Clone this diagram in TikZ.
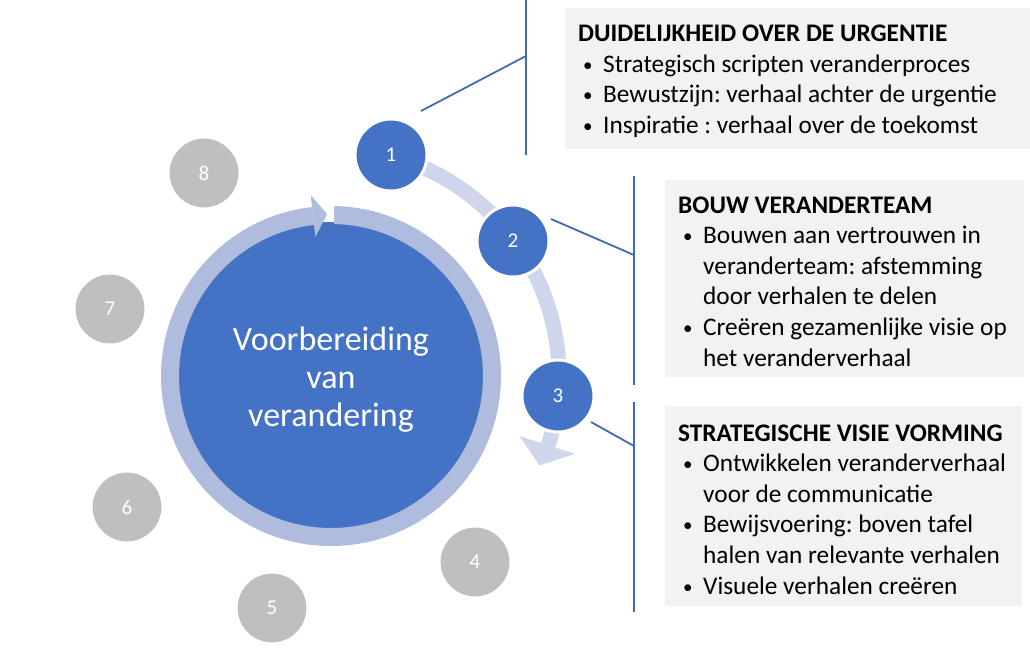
\documentclass[tikz,border=0pt]{standalone}
\usepackage{fontspec}
\setmainfont{Carlito}
\usetikzlibrary{calc}
\definecolor{mblue}{HTML}{4472C4}
\definecolor{ringc}{HTML}{AFBCDD}
\definecolor{arcc}{HTML}{CFD5EA}
\definecolor{greyfill}{HTML}{BFBFBF}
\definecolor{boxc}{HTML}{F2F2F2}
\definecolor{linec}{HTML}{4169B5}
\newcommand{\blt}{\hspace*{5pt}\makebox[20pt][l]{\raisebox{1pt}{\fontsize{19}{19}\selectfont •}}}
\newcommand{\ind}{\hspace*{25pt}}
\frenchspacing
\begin{document}
\begin{tikzpicture}[x=1pt,y=-1pt,
  numc/.style={circle, minimum size=72pt, inner sep=0pt, draw=white, line width=3pt, text=white, font=\fontsize{21}{25}\selectfont},
  bluenum/.style={numc, fill=mblue},
  graynum/.style={numc, fill=greyfill},
  panel/.style={fill=boxc, draw=none, inner sep=0pt, anchor=north west},
  paneltext/.style={anchor=base west, inner sep=0pt, text=black, font=\fontsize{25.3}{30.6}\selectfont},
  conn/.style={draw=linec, line width=1.8pt},
]
\useasboundingbox (0,0) rectangle (1030,651);
\fill[white] (0,0) rectangle (1030,651);

% panels
\node[panel, minimum width=465pt, minimum height=141pt] (box1) at (565,8) {};
\node[panel, minimum width=359pt, minimum height=197pt] (box2) at (665,180) {};
\node[panel, minimum width=357pt, minimum height=200pt] (box3) at (665,406) {};

\node[paneltext] (t1) at (578,41.5) {\parbox[t]{450pt}{\textbf{DUIDELIJKHEID OVER DE URGENTIE}\\
\blt Strategisch scripten veranderproces\\
\blt Bewustzijn: verhaal achter de urgentie\\
\blt Inspiratie : verhaal over de toekomst}};

\node[paneltext] (t2) at (678,213) {\parbox[t]{345pt}{\textbf{BOUW VERANDERTEAM}\\
\blt Bouwen aan vertrouwen in\\
\ind veranderteam: afstemming\\
\ind door verhalen te delen\\
\blt Creëren gezamenlijke visie op\\
\ind het veranderverhaal}};

\node[paneltext] (t3) at (678,441) {\parbox[t]{345pt}{\textbf{STRATEGISCHE VISIE VORMING}\\
\blt Ontwikkelen veranderverhaal\\
\ind voor de communicatie\\
\blt Bewijsvoering: boven tafel\\
\ind halen van relevante verhalen\\
\blt Visuele verhalen creëren}};

% bracket connectors
\coordinate (a1) at (421,111); \coordinate (m1) at (526,56);
\coordinate (k1t) at (526,0);  \coordinate (k1b) at (526,155);
\coordinate (a2) at (551,219); \coordinate (m2) at (634,255);
\coordinate (k2t) at (634,176); \coordinate (k2b) at (634,385);
\coordinate (a3) at (591,422); \coordinate (m3) at (634,446);
\coordinate (k3t) at (634,402); \coordinate (k3b) at (634,612);
\draw[conn] (a1) -- (m1); \draw[conn] (k1t) -- (k1b);
\draw[conn] (a2) -- (m2); \draw[conn] (k2t) -- (k2b);
\draw[conn] (a3) -- (m3); \draw[conn] (k3t) -- (k3b);

% main circle
\node[circle, fill=mblue, minimum size=308pt, inner sep=0pt, text=white, align=center,
      font=\fontsize{34}{38}\selectfont] (main) at (331,376) {\rule{0pt}{30pt}Voorbereiding\\van\\verandering};

% outer progress arc
\draw[arcc, line width=15pt] ($(main.center)+(-74.8:228)$) arc[start angle=-74.8, end angle=17.7, radius=228];
\fill[arcc] ($(main.center)+(17.7:198)$) -- ($(main.center)+(17.7:256)$) -- ($(main.center)+(23.2:227)$) -- cycle;

% ring arrow
\draw[ringc, line width=18pt] ($(main.center)+(-88.9:161)$) arc[start angle=-88.9, end angle=263.6, radius=161];
\fill[ringc] ($(main.center)+(263.6:140)$) -- ($(main.center)+(263.6:182)$) -- ($(main.center)+(268.6:162)$) -- cycle;

% numbered circles
\node[bluenum] (c1) at (391,155) {1};
\node[bluenum] (c2) at (513,241) {2};
\node[bluenum] (c3) at (558,396) {3};
\node[graynum] (c4) at (475,562) {4};
\node[graynum] (c5) at (272,608) {5};
\node[graynum] (c6) at (127,507) {6};
\node[graynum] (c7) at (110,309) {7};
\node[graynum] (c8) at (204,173) {8};
\end{tikzpicture}
\end{document}
